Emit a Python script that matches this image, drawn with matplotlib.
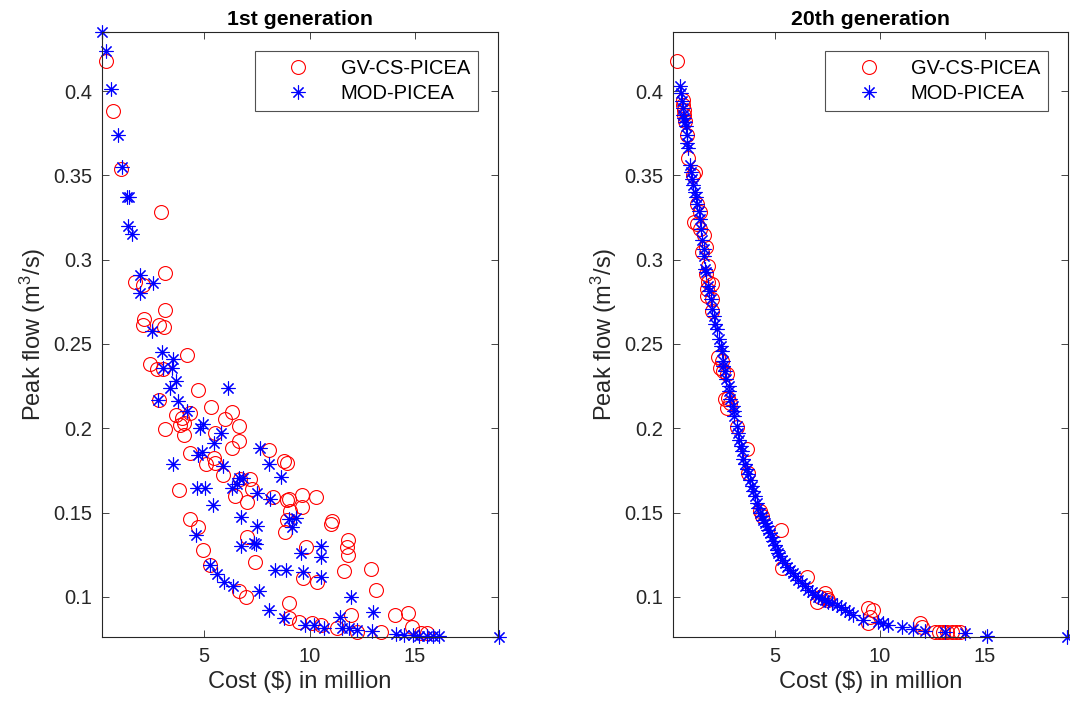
import matplotlib
matplotlib.use('Agg')
import matplotlib.pyplot as plt

plt.rcParams['font.family'] = ['Liberation Sans', 'DejaVu Sans']
plt.rcParams['mathtext.fontset'] = 'custom'
plt.rcParams['mathtext.rm'] = 'Liberation Sans'
plt.rcParams['mathtext.it'] = 'Liberation Sans:italic'

# ---- 1st generation ----
gen1_gv_x = [0.33, 0.68, 1.04, 2.93, 3.14, 1.71, 2.08, 3.14, 2.15, 2.10, 2.87, 3.10,
             4.17, 2.43, 2.75, 3.06, 4.68, 2.85, 5.32, 6.32, 6.00, 4.33, 3.66, 3.93,
             4.04, 3.85, 3.14, 4.06, 5.50, 6.66, 6.66, 6.32, 4.33, 5.44, 5.52, 5.09,
             5.90, 8.06, 8.77, 8.93, 6.71, 7.15, 7.29, 6.47, 7.03, 8.24, 8.93, 8.93,
             8.85, 3.82, 4.33, 4.69, 7.03, 4.92, 7.43, 5.28, 6.66, 7.00, 9.00, 9.00,
             9.01, 9.65, 10.29, 9.65, 9.06, 11.07, 11.03, 9.84, 11.84, 11.79, 11.84, 9.69,
             10.33, 11.63, 12.93, 13.17, 9.49, 10.12, 10.52, 11.31, 11.95, 12.27, 13.38, 14.06,
             14.69, 14.85, 15.28, 15.60]
gen1_gv_y = [0.418, 0.388, 0.354, 0.328, 0.292, 0.287, 0.285, 0.270, 0.265, 0.261, 0.261, 0.260,
             0.2436, 0.238, 0.235, 0.235, 0.2228, 0.2168, 0.2126, 0.2097, 0.2057, 0.2093, 0.2077, 0.2063,
             0.2033, 0.2019, 0.1994, 0.1958, 0.197, 0.2013, 0.1924, 0.188, 0.1855, 0.1821, 0.1796, 0.1785,
             0.1722, 0.187, 0.1805, 0.1796, 0.170, 0.170, 0.1637, 0.1597, 0.1561, 0.1593, 0.1577, 0.1458,
             0.1383, 0.1632, 0.1464, 0.1415, 0.1355, 0.1276, 0.1206, 0.1186, 0.1032, 0.1002, 0.0962, 0.0873,
             0.1583, 0.1607, 0.1593, 0.1534, 0.1512, 0.1448, 0.1434, 0.1296, 0.1339, 0.1296, 0.125, 0.1111,
             0.1091, 0.1151, 0.1165, 0.1042, 0.0853, 0.0843, 0.0833, 0.0814, 0.0893, 0.0794, 0.0794, 0.0893,
             0.0903, 0.0823, 0.0783, 0.0783]

gen1_mod_x = [0.15, 0.32, 0.55, 0.92, 1.08, 1.32, 1.42, 1.39, 1.58, 1.95, 2.58, 1.95,
              2.53, 2.98, 3.50, 3.06, 3.46, 3.66, 3.38, 6.15, 3.77, 2.82, 4.20, 4.96,
              4.81, 5.81, 5.44, 4.89, 4.68, 7.63, 8.06, 8.65, 3.50, 5.87, 6.63, 6.84,
              4.65, 5.04, 6.32, 6.55, 7.50, 8.14, 5.41, 6.74, 7.50, 4.62, 6.74, 7.35,
              7.46, 8.38, 8.86, 5.28, 5.60, 5.96, 6.36, 7.58, 8.09, 8.80,
              9.01, 9.36, 9.17, 9.57, 10.55, 10.55, 10.55, 9.69, 11.98, 11.44, 13.03, 9.80,
              10.20, 10.67, 11.55, 11.87, 12.27, 12.98, 14.09, 14.49, 14.89, 15.21, 15.60, 15.84,
              16.16, 19.00]
gen1_mod_y = [0.435, 0.4235, 0.401, 0.374, 0.355, 0.337, 0.337, 0.320, 0.315, 0.291, 0.286, 0.280,
              0.2575, 0.245, 0.241, 0.236, 0.236, 0.228, 0.2236, 0.224, 0.2159, 0.2168, 0.210, 0.2023,
              0.2004, 0.197, 0.191, 0.186, 0.184, 0.188, 0.179, 0.171, 0.1785, 0.1775, 0.1706, 0.1706,
              0.1643, 0.1643, 0.1643, 0.167, 0.1617, 0.158, 0.1543, 0.1474, 0.1418, 0.1365, 0.130, 0.132,
              0.1314, 0.116, 0.116, 0.1186, 0.1137, 0.109, 0.1067, 0.1036, 0.0923, 0.0873,
              0.1462, 0.1468, 0.1412, 0.126, 0.1303, 0.1236, 0.1115, 0.115, 0.1002, 0.0883, 0.0913, 0.0833,
              0.0833, 0.0814, 0.0814, 0.0814, 0.0804, 0.0798, 0.078, 0.0775, 0.0775, 0.077, 0.077, 0.0765,
              0.0765, 0.0762]

# ---- 20th generation ----
gen20_gv_x = [0.35, 0.62, 0.62, 0.64, 0.66, 0.70, 0.82, 0.85, 1.17, 1.09,
              1.30, 1.43, 1.14, 1.27, 1.43, 1.62, 1.71, 1.51, 1.82, 1.71,
              1.82, 1.98, 1.74, 1.74, 1.98, 2.00, 2.30, 2.46, 2.38, 2.53,
              2.70, 2.62, 2.77, 2.70, 2.85, 3.17, 3.65, 3.73, 4.28, 4.36,
              5.27, 5.32, 6.51, 7.14, 7.46, 7.54, 6.98, 7.38, 9.44, 9.68,
              9.52, 9.44, 11.90, 11.98, 12.60, 12.80, 13.00, 13.20, 13.40, 13.60,
              13.80]
gen20_gv_y = [0.418, 0.3947, 0.3917, 0.3888, 0.3858, 0.382, 0.374, 0.3604, 0.352, 0.350,
              0.333, 0.328, 0.3223, 0.3213, 0.3184, 0.3144, 0.3075, 0.3045, 0.2965, 0.2916,
              0.2866, 0.2856, 0.2827, 0.2787, 0.2767, 0.2698, 0.242, 0.240, 0.236, 0.234,
              0.232, 0.2172, 0.2182, 0.2123, 0.2152, 0.2007, 0.1875, 0.1736, 0.1508, 0.1478,
              0.1399, 0.1171, 0.112, 0.1002, 0.0992, 0.0982, 0.0972, 0.1022, 0.0933, 0.0923,
              0.0883, 0.0843, 0.0843, 0.0823, 0.0794, 0.0794, 0.0790, 0.0794, 0.0790, 0.0794,
              0.0794]

gen20_mod_x = [0.49, 0.53, 0.58, 0.62, 0.62, 0.66, 0.70, 0.77, 0.80, 0.82,
               0.85, 0.93, 0.98, 1.04, 1.09, 1.17, 1.25, 1.30, 1.36, 1.41,
               1.48, 1.52, 1.60, 1.62, 1.68, 1.71, 1.80, 1.87, 1.97, 2.00,
               2.08, 2.14, 2.21, 2.32, 2.42, 2.46, 2.50, 2.54, 2.62, 2.65,
               2.80, 2.80, 2.86, 3.00, 3.05, 3.05, 3.18, 3.21, 3.30, 3.38,
               3.41, 3.49, 3.59, 3.65, 3.72, 3.81, 3.88, 3.96, 4.05, 4.13,
               4.20, 4.28, 4.36, 4.44, 4.52, 4.60, 4.68, 4.76, 4.84, 4.92,
               5.00, 5.08, 5.16, 5.24, 5.35, 5.47, 5.59, 5.71, 5.83, 5.95,
               6.10, 6.27, 6.42, 6.58, 6.74, 6.90, 7.06, 7.22, 7.38, 7.54,
               7.73, 7.93, 8.13, 8.33, 8.53, 8.73, 9.20, 9.92, 10.16, 10.39,
               11.03, 11.58, 12.14, 13.09, 14.04, 15.08, 18.89]
gen20_mod_y = [0.4027, 0.3987, 0.394, 0.3898, 0.3858, 0.384, 0.3818, 0.379, 0.374, 0.369,
               0.366, 0.356, 0.352, 0.348, 0.344, 0.340, 0.337, 0.333, 0.329, 0.3243,
               0.318, 0.3114, 0.3065, 0.302, 0.2946, 0.2926, 0.2846, 0.2816, 0.2767, 0.2708,
               0.2668, 0.262, 0.2589, 0.2529, 0.2489, 0.246, 0.240, 0.237, 0.234, 0.229,
               0.225, 0.222, 0.2172, 0.213, 0.210, 0.2073, 0.2013, 0.1974, 0.193, 0.1894,
               0.1865, 0.182, 0.1785, 0.1756, 0.1726, 0.1696, 0.1656, 0.1627, 0.1597, 0.1558,
               0.1525, 0.1498, 0.1478, 0.1458, 0.1438, 0.1418, 0.1398, 0.1379, 0.1354, 0.1329,
               0.1305, 0.128, 0.126, 0.124, 0.122, 0.120, 0.118, 0.1161, 0.1141, 0.1121,
               0.1101, 0.1082, 0.1062, 0.1042, 0.1027, 0.1012, 0.1002, 0.0992, 0.0982, 0.0972,
               0.0962, 0.0952, 0.0937, 0.0923, 0.0908, 0.0893, 0.0863, 0.0853, 0.0843, 0.0833,
               0.0823, 0.0808, 0.0798, 0.0794, 0.0784, 0.0768, 0.0762]

panels = [
    ('1st generation', gen1_gv_x, gen1_gv_y, gen1_mod_x, gen1_mod_y),
    ('20th generation', gen20_gv_x, gen20_gv_y, gen20_mod_x, gen20_mod_y),
]

grey = (0.15, 0.15, 0.15)
fig = plt.figure(figsize=(10.7, 7.08), dpi=100)
positions = [[0.0953, 0.1003, 0.3701, 0.8545], [0.629, 0.1003, 0.3692, 0.8545]]

for pos, (title, gx, gy, mx, my) in zip(positions, panels):
    ax = fig.add_axes(pos)
    # markers are not cut at the axes edge, as in the original
    ax.plot(gx, gy, 'o', mfc='none', mec='r', ms=10, mew=0.8, label='GV-CS-PICEA', clip_on=False)
    ax.plot(mx, my, ls='none', marker=(8, 2, 0), color='b', ms=10, mew=0.8, label='MOD-PICEA',
            clip_on=False)
    ax.set_xlim(0.14, 18.95)
    ax.set_ylim(0.0762, 0.435)
    ax.set_xticks([5, 10, 15])
    ax.set_xticklabels(['5', '10', '15'])
    ax.set_yticks([0.1, 0.15, 0.2, 0.25, 0.3, 0.35, 0.4])
    ax.set_yticklabels(['0.1', '0.15', '0.2', '0.25', '0.3', '0.35', '0.4'])
    ax.tick_params(direction='in', length=5, width=0.6, top=True, right=True,
                   labelsize=14.5, colors=grey, pad=7)
    for sp in ax.spines.values():
        sp.set_color(grey)
        sp.set_linewidth(0.8)
    ax.set_xlabel(r'Cost (\$) in million', fontsize=17, color=grey)
    ax.set_ylabel(r'Peak flow (m$^{\mathrm{3}}$/s)', fontsize=17, color=grey)
    ax.set_title(title, fontsize=15.3, fontweight='bold', pad=5)
    leg = ax.legend(loc='upper right', bbox_to_anchor=(0.9495, 0.9686), borderaxespad=0,
                    numpoints=1, fontsize=14.5, fancybox=False, edgecolor=grey,
                    handlelength=3.5, handletextpad=0.35, borderpad=0.4, labelspacing=0.3)
    leg.get_frame().set_linewidth(0.8)

fig.savefig('out.png', dpi=100)
